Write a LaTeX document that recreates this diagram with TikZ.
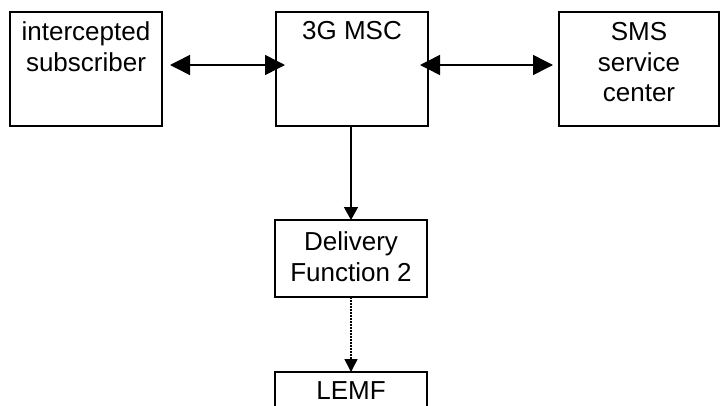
\documentclass[tikz,border=0pt]{standalone}
\usepackage{fontspec}
\setmainfont{Liberation Sans}
\usetikzlibrary{arrows.meta}
\begin{document}
\begin{tikzpicture}[x=1pt,y=-1pt,
  box/.style={draw, line width=1.6pt, inner sep=0pt, outer sep=0pt},
  txt/.style={inner sep=0pt, align=center, anchor=north,
    font=\fontsize{26}{30.5}\selectfont},
  harrow/.style={line width=1.5pt, {Triangle[length=20pt,width=20pt]}-{Triangle[length=20pt,width=20pt]}},
  varrow/.style={line width=1.5pt, -{Triangle[length=13pt,width=14pt]}},
  dotarrow/.style={line width=1.5pt, dash pattern=on 1.5pt off 1.5pt, -{Triangle[length=13pt,width=13pt]}}]
\useasboundingbox (0,0) rectangle (720,405);
\clip (0,0) rectangle (720,405);
\fill[white] (0,0) rectangle (720,405);
% boxes
\node[box, minimum width=152pt, minimum height=114pt] (sub) at (86,69) {};
\node[box, minimum width=152pt, minimum height=114pt] (msc) at (352,69) {};
\node[box, minimum width=160pt, minimum height=114pt] (sms) at (639,69) {};
\node[box, minimum width=152pt, minimum height=77pt] (df) at (351,258.5) {};
\node[box, minimum width=152pt, minimum height=68pt] (lemf) at (351,406) {};
% texts
\node[txt] (subt) at (86,21.5) {intercepted\\subscriber};
\node[txt] (msct) at (352,21.5) {3G MSC};
\node[txt] (smst) at (639,22.5) {SMS\\service\\center};
\node[txt] (dft) at (351,231.5) {Delivery\\Function 2};
\node[txt] (lemft) at (351,381.5) {LEMF};
% connectors
\draw[harrow] ([xshift=8pt,yshift=4pt]sub.east) -- ([xshift=9pt,yshift=4pt]msc.west);
\draw[harrow] ([xshift=-8pt,yshift=4pt]msc.east) -- ([xshift=-6pt,yshift=4pt]sms.west);
\draw[varrow] (msc.south -| df.north) -- (df.north);
\draw[dotarrow] (df.south) -- (lemf.north);
\end{tikzpicture}
\end{document}
